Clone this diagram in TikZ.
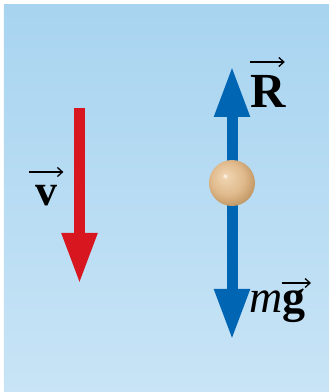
\documentclass[tikz,border=0pt]{standalone}
\usepackage{fontspec}
\setmainfont{Liberation Serif}
\usetikzlibrary{arrows.meta}
\definecolor{bgtop}{RGB}{168,212,240}
\definecolor{bgbot}{RGB}{200,228,246}
\definecolor{redarrow}{RGB}{215,22,31}
\definecolor{bluearrow}{RGB}{0,102,180}
\definecolor{ballhi}{RGB}{255,250,240}
\definecolor{balllight}{RGB}{238,210,174}
\definecolor{ballmid}{RGB}{224,186,140}
\definecolor{balledge}{RGB}{192,148,98}
\pgfdeclareradialshading{pearl}{\pgfpoint{-8bp}{8bp}}{color(0bp)=(ballhi); color(3bp)=(balllight); color(18bp)=(ballmid); color(30bp)=(balledge); color(50bp)=(balledge)}
\tikzset{
  bigarrow/.style={line width=11pt, -{Triangle[length=51pt,width=33pt]}},
  veclabel/.style={inner sep=0pt, anchor=base west, text=black},
  vecbar/.style={line width=1.3pt, -{Straight Barb[length=5pt,width=9pt,line width=1.3pt]}},
}
\begin{document}
\begin{tikzpicture}[x=1pt,y=1pt]
\useasboundingbox (0,0) rectangle (329,392);
\shade[top color=bgtop, bottom color=bgbot] (4,0) rectangle (329,387);
% velocity arrow
\coordinate (vtop) at (79.5,284);
\coordinate (vtip) at (79.5,108);
\draw[bigarrow, redarrow] (vtop) -- (vtip);
% ball and forces
\node (ball) [circle, minimum size=46pt, inner sep=0pt] at (232,209) {};
\coordinate (Rtip) at (232,326);
\coordinate (Wtip) at (232,52);
\draw[bigarrow, bluearrow] (ball.center) -- (Rtip);
\draw[bigarrow, bluearrow] (ball.center) -- (Wtip);
\shade[shading=pearl] (ball.center) circle (23pt);
% labels
\node (R) [veclabel, font=\fontsize{49}{49}\selectfont\bfseries] at (250,284) {R};
\draw[vecbar] ([xshift=0pt,yshift=330pt-284pt]R.base west) -- ([xshift=-1pt,yshift=330pt-284pt]R.base east);
\node (v) [veclabel, font=\fontsize{44}{44}\selectfont\bfseries] at (35,186) {v};
\draw[vecbar] ([xshift=-6pt,yshift=220pt-186pt]v.base west) -- ([xshift=6pt,yshift=220pt-186pt]v.base east);
\node (m) [veclabel, font=\fontsize{46}{46}\selectfont\itshape] at (249,79) {m};
\node (g) [veclabel, font=\fontsize{46}{46}\selectfont\bfseries] at (m.base east) {g};
\draw[vecbar] ([xshift=-1pt,yshift=109pt-79pt]g.base west) -- ([xshift=5pt,yshift=109pt-79pt]g.base east);
\end{tikzpicture}
\end{document}
